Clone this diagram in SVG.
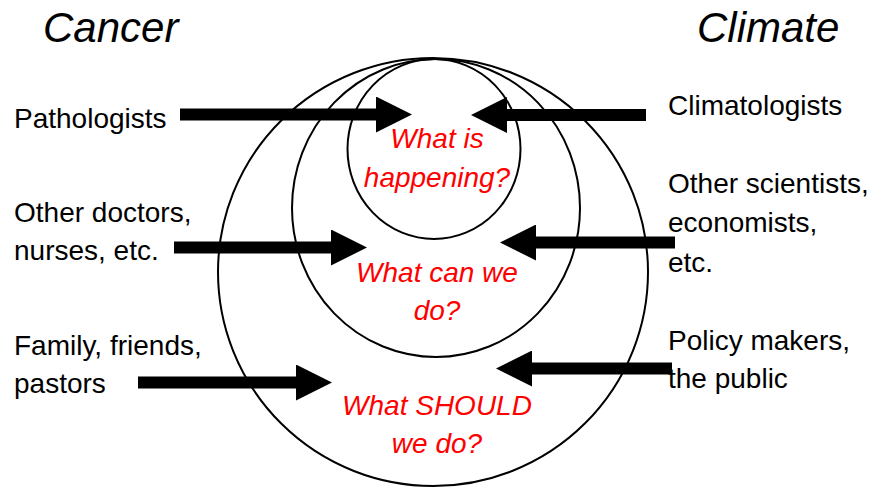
<svg xmlns="http://www.w3.org/2000/svg" width="879" height="487" viewBox="0 0 879 487">
<style>
.ring{fill:none;stroke:#000;stroke-width:2}
.lbl{font-family:"Liberation Sans",Arial,sans-serif;font-size:28px;fill:#000}
.ttl{font-family:"Liberation Sans",Arial,sans-serif;font-size:42px;font-style:italic;fill:#000}
.q{font-family:"Liberation Sans",Arial,sans-serif;font-size:28px;font-style:italic;fill:#ff0000;text-anchor:middle}
.arr{stroke:#000;stroke-width:12;fill:none;marker-end:url(#head)}
</style>
<defs>
<marker id="head" markerUnits="userSpaceOnUse" markerWidth="36" markerHeight="36" refX="0" refY="18" orient="auto">
<path d="M0,0 L36,18 L0,36 Z" fill="#000"/>
</marker>
</defs>
<rect width="879" height="487" fill="#fff"/>
<g id="title-cancer"><text class="ttl" x="43" y="42">Cancer</text></g>
<g id="title-climate"><text class="ttl" x="697" y="42">Climate</text></g>
<g id="circle-should"><ellipse class="ring" cx="433" cy="272" rx="215" ry="214"/><text class="q" x="437" y="415">What SHOULD</text><text class="q" x="437" y="453">we do?</text></g>
<g id="circle-can"><ellipse class="ring" cx="436" cy="208" rx="144" ry="149"/><text class="q" x="437" y="282">What can we</text><text class="q" x="437" y="320">do?</text></g>
<g id="circle-happening"><ellipse class="ring" cx="434" cy="149" rx="86.5" ry="90"/><text class="q" x="437" y="148">What is</text><text class="q" x="437" y="187">happening?</text></g>
<g id="label-pathologists"><text class="lbl" x="14" y="128">Pathologists</text></g>
<g id="label-doctors"><text class="lbl" x="14" y="222">Other doctors,</text><text class="lbl" x="14" y="260">nurses, etc.</text></g>
<g id="label-family"><text class="lbl" x="14" y="355">Family, friends,</text><text class="lbl" x="14" y="393">pastors</text></g>
<g id="label-climatologists"><text class="lbl" x="668" y="115">Climatologists</text></g>
<g id="label-scientists"><text class="lbl" x="668" y="193">Other scientists,</text><text class="lbl" x="668" y="232">economists,</text><text class="lbl" x="668" y="272">etc.</text></g>
<g id="label-policy"><text class="lbl" x="668" y="350">Policy makers,</text><text class="lbl" x="668" y="388">the public</text></g>
<g id="connectors">
<line class="arr" x1="180" y1="114.5" x2="376" y2="114.5"/>
<line class="arr" x1="174" y1="247.5" x2="331" y2="247.5"/>
<line class="arr" x1="138" y1="382.5" x2="296" y2="382.5"/>
<line class="arr" x1="646" y1="115" x2="507" y2="115"/>
<line class="arr" x1="675" y1="242.5" x2="536" y2="242.5"/>
<line class="arr" x1="672" y1="368.5" x2="532" y2="368.5"/>
</g>
</svg>
